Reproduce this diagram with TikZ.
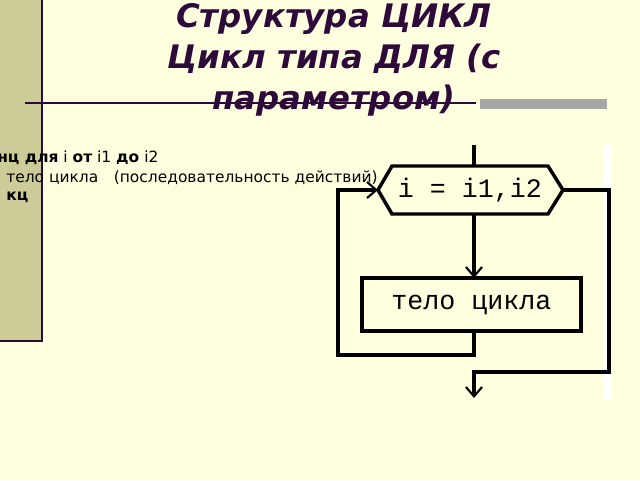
\documentclass[tikz,border=0pt]{standalone}
\usepackage{fontspec}
\setmainfont{DejaVu Sans}
\newfontfamily\monob{Liberation Mono}
\usetikzlibrary{arrows.meta}
\definecolor{bg}{HTML}{FFFFE0}
\definecolor{olive}{HTML}{CCCC99}
\definecolor{titlec}{HTML}{2E0A3A}
\begin{document}
\begin{tikzpicture}[x=0.75pt,y=-0.75pt,
  flow/.style={line width=2.6pt},
  arr/.style={flow,-{Straight Barb[length=7pt,width=12pt,line width=1.6pt]}},
  lbl/.style={anchor=west,font=\fontsize{11.6pt}{13pt}\selectfont,inner sep=0}]
\useasboundingbox (0,0) rectangle (640,480);
\fill[bg] (0,0) rectangle (640,480);
\fill[olive] (0,0) rectangle (42,340);
\draw[titlec,line width=1.5pt] (42,0) -- (42,341) -- (0,341);
\fill[white] (603,145) rectangle (612,400);
\draw[titlec,line width=0.8pt] (25,103) -- (476,103);
\fill[gray!70] (480,99) rectangle (607,109);
\node[titlec,font=\fontsize{24.3pt}{31pt}\selectfont\bfseries\itshape,align=center] (title) at (334,60) {Структура ЦИКЛ\\Цикл типа ДЛЯ (с\\параметром)};
\node[lbl] (l1) at (-3,158) {\textbf{нц для} i \textbf{от} i1 \textbf{до} i2};
\node[lbl] (l2) at (6,178) {тело цикла\quad(последовательность действий)};
\node[lbl] (l3) at (6,197) {\textbf{кц}};
% flowchart
\coordinate (top) at (474,145);
\coordinate (hl) at (378,190);
\coordinate (hr) at (563,190);
\draw[flow,fill=bg] (hl) -- (392,166) -- (548,166) -- (hr) -- (548,214) -- (392,214) -- cycle;
\node[font=\monob\fontsize{20pt}{22pt}\selectfont] (hex) at (470,190) {i = i1,i2};
\node[draw,flow,minimum width=219*0.75pt,minimum height=53*0.75pt,font=\monob\fontsize{20pt}{22pt}\selectfont] (body) at (471.5,304.5) {тело цикла};
\coordinate (hb) at (474,214);
\coordinate (ht) at (474,166);
\draw[flow] (top) -- (ht);
\draw[arr] (hb) -- (474,278);
\draw[arr] (474,331) -- (474,355) -- (338,355) -- (338,190) -- (hl);
\coordinate (out) at (474,398);
\draw[arr] (hr) -- (609,190) -- (609,372) -- (474,372) -- (out);
\end{tikzpicture}
\end{document}
